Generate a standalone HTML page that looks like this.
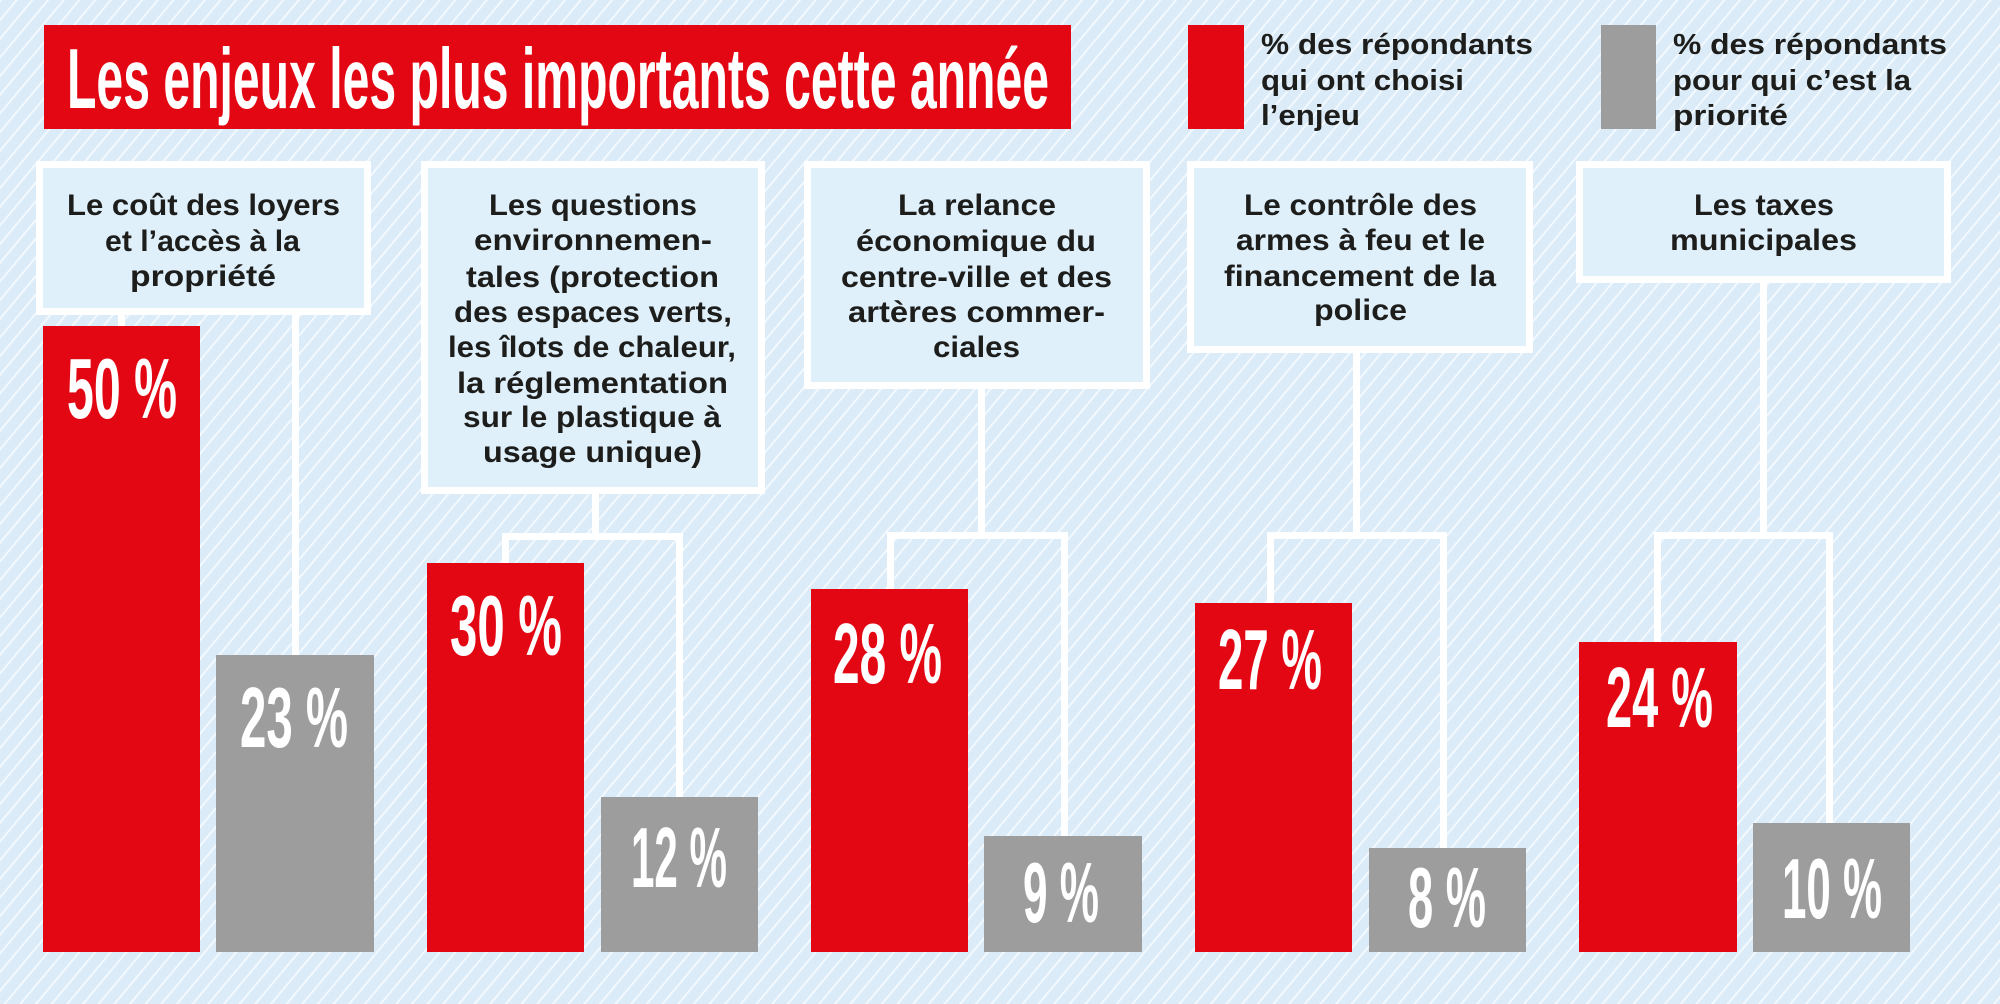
<!DOCTYPE html>
<html>
<head>
<meta charset="utf-8">
<style>
html,body{margin:0;padding:0;background:#dcecf8;}
svg{display:block;}
.cat{font-family:"Liberation Sans",sans-serif;font-weight:bold;font-size:30px;fill:#1d1d1b;}
.leg{font-family:"Liberation Sans",sans-serif;font-weight:bold;font-size:29px;fill:#1d1d1b;}
.val{font-family:"Liberation Sans",sans-serif;font-weight:bold;font-size:85px;fill:#ffffff;}
.title{font-family:"Liberation Sans",sans-serif;font-weight:bold;font-size:85px;fill:#ffffff;}
</style>
</head>
<body>
<svg width="2000" height="1004" viewBox="0 0 2000 1004" xmlns="http://www.w3.org/2000/svg">
<defs>
<pattern id="stripes" patternUnits="userSpaceOnUse" width="12" height="12" patternTransform="rotate(40)">
<rect x="0" y="0" width="12" height="12" fill="#dbecf8"/>
<rect x="0" y="0" width="1.8" height="12" fill="#f4faff"/>
</pattern>
</defs>
<rect x="0" y="0" width="2000" height="1004" fill="url(#stripes)"/>

<!-- Title -->
<rect x="44" y="25" width="1027" height="104" fill="#e30613"/>
<text class="title" x="67" y="108" textLength="982" lengthAdjust="spacingAndGlyphs">Les enjeux les plus importants cette année</text>

<!-- Legend -->
<rect x="1188" y="25" width="56" height="104" fill="#e30613"/>
<text class="leg" x="1261" y="54" textLength="272" lengthAdjust="spacingAndGlyphs">% des répondants</text>
<text class="leg" x="1261" y="90" textLength="203" lengthAdjust="spacingAndGlyphs">qui ont choisi</text>
<text class="leg" x="1261" y="125" textLength="99" lengthAdjust="spacingAndGlyphs">l’enjeu</text>

<rect x="1601" y="25" width="55" height="104" fill="#9d9d9d"/>
<text class="leg" x="1673" y="54" textLength="274" lengthAdjust="spacingAndGlyphs">% des répondants</text>
<text class="leg" x="1673" y="90" textLength="238" lengthAdjust="spacingAndGlyphs">pour qui c’est la</text>
<text class="leg" x="1673" y="125" textLength="115" lengthAdjust="spacingAndGlyphs">priorité</text>

<!-- Connectors -->
<g fill="#ffffff">
<rect x="118" y="312" width="7" height="16"/>
<rect x="292" y="312" width="7" height="345"/>
<rect x="592" y="490" width="7" height="50"/>
<rect x="502" y="533" width="181" height="7"/>
<rect x="502" y="533" width="7" height="32"/>
<rect x="676" y="533" width="7" height="266"/>
<rect x="978" y="385" width="7" height="154"/>
<rect x="887" y="532" width="181" height="7"/>
<rect x="887" y="532" width="7" height="59"/>
<rect x="1061" y="532" width="7" height="306"/>
<rect x="1353" y="350" width="7" height="189"/>
<rect x="1267" y="532" width="180" height="7"/>
<rect x="1267" y="532" width="7" height="73"/>
<rect x="1440" y="532" width="7" height="318"/>
<rect x="1760" y="280" width="7" height="259"/>
<rect x="1654" y="532" width="179" height="7"/>
<rect x="1654" y="532" width="7" height="112"/>
<rect x="1826" y="532" width="7" height="293"/>
</g>

<!-- Boxes -->
<g fill="#dff0fb" stroke="#ffffff" stroke-width="7">
<rect x="39.5" y="164.5" width="328" height="147"/>
<rect x="424.5" y="164.5" width="337" height="326"/>
<rect x="807.5" y="164.5" width="339" height="221"/>
<rect x="1190.5" y="164.5" width="339" height="185"/>
<rect x="1579.5" y="164.5" width="368" height="115"/>
</g>

<!-- Box texts -->
<text class="cat" x="67" y="215" textLength="273" lengthAdjust="spacingAndGlyphs">Le coût des loyers</text>
<text class="cat" x="105" y="251" textLength="195" lengthAdjust="spacingAndGlyphs">et l’accès à la</text>
<text class="cat" x="130" y="286" textLength="146" lengthAdjust="spacingAndGlyphs">propriété</text>

<text class="cat" x="489" y="215" textLength="208" lengthAdjust="spacingAndGlyphs">Les questions</text>
<text class="cat" x="474" y="250" textLength="238" lengthAdjust="spacingAndGlyphs">environnemen-</text>
<text class="cat" x="466" y="287" textLength="253" lengthAdjust="spacingAndGlyphs">tales (protection</text>
<text class="cat" x="454" y="322" textLength="278" lengthAdjust="spacingAndGlyphs">des espaces verts,</text>
<text class="cat" x="448" y="357" textLength="288" lengthAdjust="spacingAndGlyphs">les îlots de chaleur,</text>
<text class="cat" x="457" y="393" textLength="271" lengthAdjust="spacingAndGlyphs">la réglementation</text>
<text class="cat" x="463" y="427" textLength="258" lengthAdjust="spacingAndGlyphs">sur le plastique à</text>
<text class="cat" x="483" y="462" textLength="219" lengthAdjust="spacingAndGlyphs">usage unique)</text>

<text class="cat" x="898" y="215" textLength="158" lengthAdjust="spacingAndGlyphs">La relance</text>
<text class="cat" x="856" y="251" textLength="240" lengthAdjust="spacingAndGlyphs">économique du</text>
<text class="cat" x="841" y="287" textLength="271" lengthAdjust="spacingAndGlyphs">centre-ville et des</text>
<text class="cat" x="848" y="322" textLength="257" lengthAdjust="spacingAndGlyphs">artères commer-</text>
<text class="cat" x="933" y="357" textLength="87" lengthAdjust="spacingAndGlyphs">ciales</text>

<text class="cat" x="1244" y="215" textLength="233" lengthAdjust="spacingAndGlyphs">Le contrôle des</text>
<text class="cat" x="1236" y="250" textLength="249" lengthAdjust="spacingAndGlyphs">armes à feu et le</text>
<text class="cat" x="1224" y="286" textLength="272" lengthAdjust="spacingAndGlyphs">financement de la</text>
<text class="cat" x="1314" y="320" textLength="93" lengthAdjust="spacingAndGlyphs">police</text>

<text class="cat" x="1694" y="215" textLength="140" lengthAdjust="spacingAndGlyphs">Les taxes</text>
<text class="cat" x="1670" y="250" textLength="187" lengthAdjust="spacingAndGlyphs">municipales</text>

<!-- Bars -->
<g>
<rect x="43" y="326" width="157" height="626" fill="#e30613"/>
<rect x="216" y="655" width="158" height="297" fill="#9d9d9d"/>
<rect x="427" y="563" width="157" height="389" fill="#e30613"/>
<rect x="601" y="797" width="157" height="155" fill="#9d9d9d"/>
<rect x="811" y="589" width="157" height="363" fill="#e30613"/>
<rect x="984" y="836" width="158" height="116" fill="#9d9d9d"/>
<rect x="1195" y="603" width="157" height="349" fill="#e30613"/>
<rect x="1369" y="848" width="157" height="104" fill="#9d9d9d"/>
<rect x="1579" y="642" width="158" height="310" fill="#e30613"/>
<rect x="1753" y="823" width="157" height="129" fill="#9d9d9d"/>
</g>

<!-- Values -->
<text class="val" x="67" y="418" textLength="110" lengthAdjust="spacingAndGlyphs">50 %</text>
<text class="val" x="240" y="747" textLength="108" lengthAdjust="spacingAndGlyphs">23 %</text>
<text class="val" x="450" y="655" textLength="112" lengthAdjust="spacingAndGlyphs">30 %</text>
<text class="val" x="631" y="887" textLength="96" lengthAdjust="spacingAndGlyphs">12 %</text>
<text class="val" x="833" y="683" textLength="109" lengthAdjust="spacingAndGlyphs">28 %</text>
<text class="val" x="1023" y="922" textLength="76" lengthAdjust="spacingAndGlyphs">9 %</text>
<text class="val" x="1218" y="689" textLength="104" lengthAdjust="spacingAndGlyphs">27 %</text>
<text class="val" x="1408" y="927" textLength="78" lengthAdjust="spacingAndGlyphs">8 %</text>
<text class="val" x="1606" y="727" textLength="107" lengthAdjust="spacingAndGlyphs">24 %</text>
<text class="val" x="1782" y="918" textLength="100" lengthAdjust="spacingAndGlyphs">10 %</text>
</svg>
</body>
</html>
